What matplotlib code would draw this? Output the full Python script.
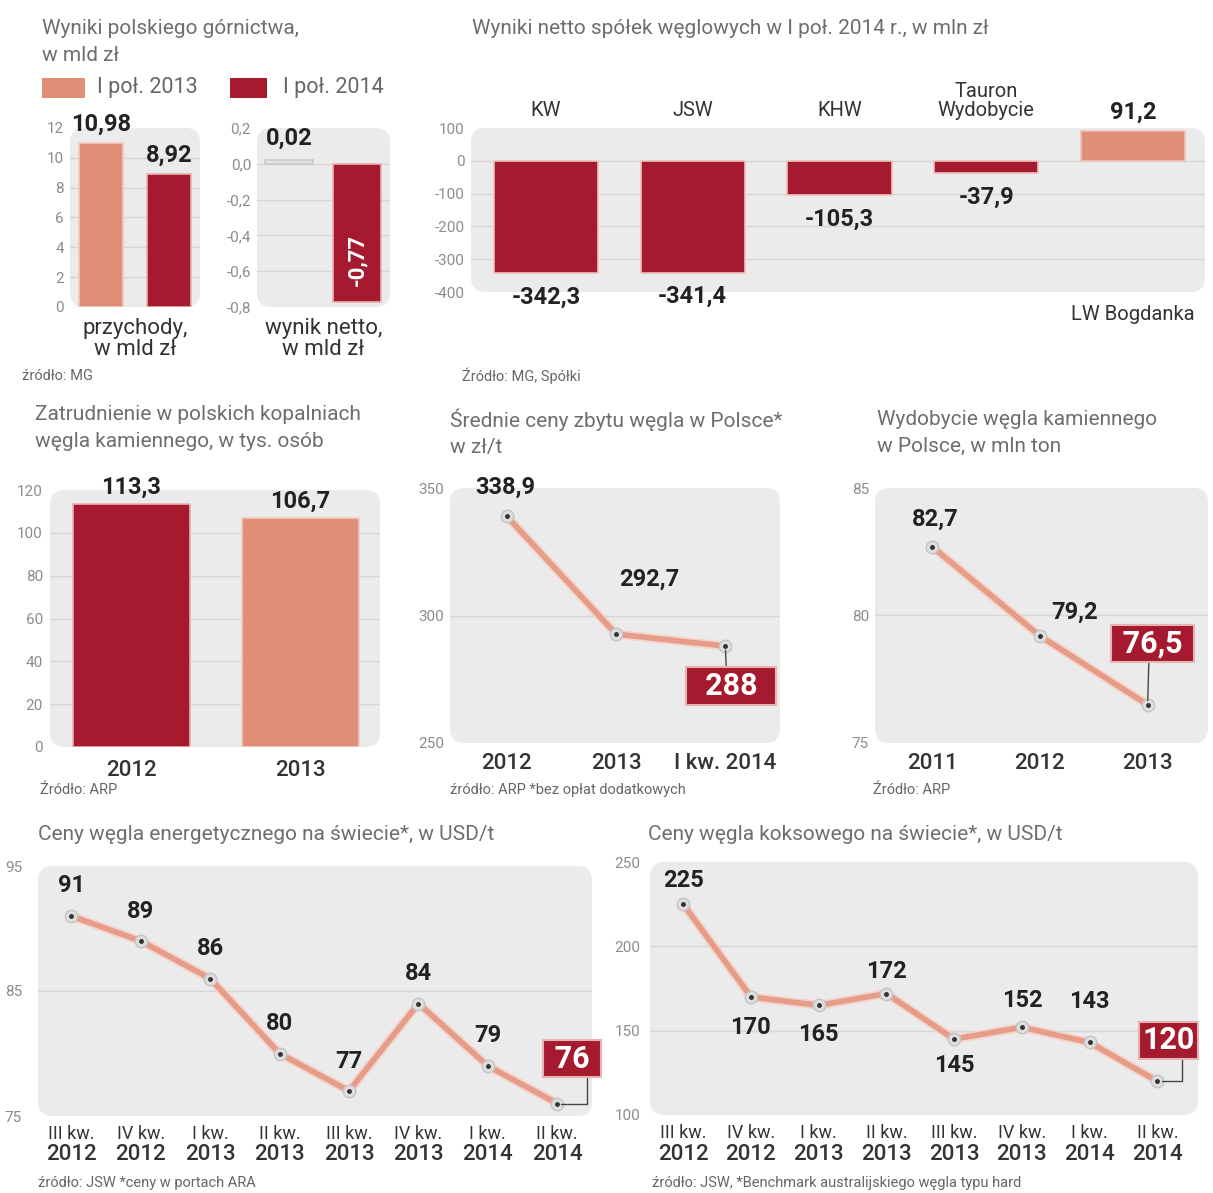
import matplotlib
matplotlib.use("Agg")
import matplotlib.pyplot as plt
import matplotlib.patheffects as pe
from matplotlib.patches import FancyBboxPatch, Rectangle

plt.rcParams['font.family'] = ['Roboto', 'DejaVu Sans']

# --- dane ---
# Wyniki polskiego gornictwa
legend_labels = ['I poł. 2013', 'I poł. 2014']
revenue = [10.98, 8.92]
revenue_labels = ['10,98', '8,92']
net_result = [0.02, -0.77]
net_labels = ['0,02', '-0,77']
rev_ticks = [0, 2, 4, 6, 8, 10, 12]
net_ticks = [0.2, 0.0, -0.2, -0.4, -0.6, -0.8]
net_tick_labels = ['0,2', '0,0', '-0,2', '-0,4', '-0,6', '-0,8']

# Wyniki netto spolek
companies = ['KW', 'JSW', 'KHW', 'Tauron\nWydobycie', 'LW Bogdanka']
company_net = [-342.3, -341.4, -105.3, -37.9, 91.2]
company_labels = ['-342,3', '-341,4', '-105,3', '-37,9', '91,2']
company_ticks = [100, 0, -100, -200, -300, -400]

# Zatrudnienie
emp_years = ['2012', '2013']
employment = [113.3, 106.7]
employment_labels = ['113,3', '106,7']
emp_ticks = [0, 20, 40, 60, 80, 100, 120]

# Srednie ceny zbytu
price_periods = ['2012', '2013', 'I kw. 2014']
price_pl = [338.9, 292.7, 288]
price_pl_labels = ['338,9', '292,7', '288']
price_ticks = [250, 300, 350]

# Wydobycie
output_years = ['2011', '2012', '2013']
output_mt = [82.7, 79.2, 76.5]
output_labels = ['82,7', '79,2', '76,5']
output_ticks = [75, 80, 85]

# Ceny na swiecie
quarters = ['III kw.', 'IV kw.', 'I kw.', 'II kw.', 'III kw.', 'IV kw.', 'I kw.', 'II kw.']
quarter_years = ['2012', '2012', '2013', '2013', '2013', '2013', '2014', '2014']
steam_coal = [91, 89, 86, 80, 77, 84, 79, 76]
steam_ticks = [75, 85, 95]
coking_coal = [225, 170, 165, 172, 145, 152, 143, 120]
coking_ticks = [100, 150, 200, 250]

RED = '#a51a2e'
ORANGE = '#df8f78'
BOXBG = '#ebebeb'
GRID = '#d6d6d6'
TITLE = '#6e6e6e'
TICK = '#8c8c8c'
DARK = '#222222'
TITLE_SIZE = 15
SRC_SIZE = 10.5
TITLE_LS = 1.5

W, H = 1213, 1193
fig = plt.figure(figsize=(W / 100, H / 100), dpi=100)
fig.patch.set_facecolor('white')


def add_ax(x0, y0, x1, y1, box=True, pad=6):
    ax = fig.add_axes([x0 / W, 1 - y1 / H, (x1 - x0) / W, (y1 - y0) / H])
    ax.set_facecolor('none')
    for s in ax.spines.values():
        s.set_visible(False)
    ax.tick_params(length=0, labelsize=11, labelcolor=TICK, pad=pad * 0.72)
    if box:
        fig.add_artist(FancyBboxPatch((x0 / W, 1 - y1 / H), (x1 - x0) / W, (y1 - y0) / H,
                                      boxstyle='round,pad=0,rounding_size=0.012',
                                      transform=fig.transFigure, fc=BOXBG, ec='none', zorder=-5))
    return ax


def ftext(x, y, s, **kw):
    fig.text(x / W, 1 - y / H, s, **kw)


def hgrid(ax, ticks):
    # linie tylko wewnatrz szarego pola
    for t in ticks[1:-1]:
        ax.axhline(t, color=GRID, lw=1, zorder=1)


def value_label(ax, x, y, text, dx, dy, size=17, color=DARK, **kw):
    ax.annotate(text, (x, y), xytext=(dx, dy), textcoords='offset pixels',
                ha='center', va='center', fontsize=size, fontweight='bold', color=color, zorder=6, **kw)


def boxed_label(ax, x, y, text, dx, dy, rel, conn='arc3', size=22):
    ax.annotate(text, (x, y), xytext=(dx, dy), textcoords='offset pixels',
                ha='center', va='center', fontsize=size, fontweight='bold', color='white',
                bbox=dict(boxstyle='square,pad=0.12', fc=RED, ec='#e6b3b3', lw=1.5),
                arrowprops=dict(arrowstyle='-', color='#444', lw=1, shrinkA=0, shrinkB=3,
                                relpos=rel, connectionstyle=conn), zorder=6)


def draw_line(ax, values):
    x = range(len(values))
    ax.plot(x, values, color='#e59c88', lw=4, solid_joinstyle='round', zorder=3,
            path_effects=[pe.Stroke(linewidth=6.5, foreground='#f5d3c9'), pe.Normal()])
    ax.plot(x, values, ls='none', marker='o', ms=9, mfc='#dedede', mec='#c4c4c4', mew=1, zorder=4)
    ax.plot(x, values, ls='none', marker='o', ms=2.5, color='#333333', zorder=5)


def quarter_labels(ax):
    for i, (q, yr) in enumerate(zip(quarters, quarter_years)):
        ax.annotate(q, (i, 0), xycoords=('data', 'axes fraction'), xytext=(0, -18),
                    textcoords='offset pixels', ha='center', va='center', fontsize=13, color='#333333')
        ax.annotate(yr, (i, 0), xycoords=('data', 'axes fraction'), xytext=(0, -39),
                    textcoords='offset pixels', ha='center', va='center', fontsize=16,
                    fontweight='medium', color='#333333')


# ---------- 1. Wyniki polskiego gornictwa ----------
ftext(42, 42, 'Wyniki polskiego górnictwa,\nw mld zł', fontsize=TITLE_SIZE, color=TITLE, va='center',
      linespacing=TITLE_LS)
fig.add_artist(Rectangle((42 / W, 1 - 98 / H), 43 / W, 20 / H, transform=fig.transFigure, fc=ORANGE, ec='none'))
ftext(97, 88, legend_labels[0], fontsize=15.5, color='#666666', va='center')
fig.add_artist(Rectangle((230 / W, 1 - 98 / H), 37 / W, 20 / H, transform=fig.transFigure, fc=RED, ec='none'))
ftext(283, 88, legend_labels[1], fontsize=15.5, color='#666666', va='center')

ax = add_ax(70, 128, 200, 307)
ax.set_ylim(0, 12)
ax.set_xlim(-0.46, 1.46)
ax.set_yticks(rev_ticks, [str(t) for t in rev_ticks])
ax.set_xticks([])
hgrid(ax, rev_ticks)
ax.bar(range(2), revenue, width=0.66, color=[ORANGE, RED], edgecolor=['#f3cbbd', '#eab0b0'], lw=1.2, zorder=2)
for i, (v, t) in enumerate(zip(revenue, revenue_labels)):
    value_label(ax, i, v, t, 0, 19)
ax.text(0.5, -0.18, 'przychody,\nw mld zł', transform=ax.transAxes, ha='center', va='center',
        fontsize=16, color='#333333', linespacing=1.0)

ax = add_ax(257, 128, 390, 307)
ax.set_ylim(-0.8, 0.2)
ax.set_xlim(-0.47, 1.49)
ax.set_yticks(net_ticks, net_tick_labels)
ax.set_xticks([])
hgrid(ax, net_ticks)
ax.bar(range(2), net_result, width=0.7, color=['#e4e4e4', RED], edgecolor=['#c9c9c9', '#eab0b0'], lw=1.2, zorder=2)
value_label(ax, 0, net_result[0], net_labels[0], 0, 22)
value_label(ax, 1, net_result[1], net_labels[1], 0, 42, color='white', rotation=90, size=16)
ax.text(0.5, -0.18, 'wynik netto,\nw mld zł', transform=ax.transAxes, ha='center', va='center',
        fontsize=16, color='#333333', linespacing=1.0)
ftext(22, 376, 'źródło: MG', fontsize=SRC_SIZE, color='#666666', va='center')

# ---------- 2. Wyniki netto spolek ----------
ftext(472, 28, 'Wyniki netto spółek węglowych w I poł. 2014 r., w mln zł', fontsize=TITLE_SIZE,
      color=TITLE, va='center')
ax = add_ax(471, 128, 1205, 292)
ax.set_ylim(-400, 100)
ax.set_xlim(-0.51, 4.49)
ax.set_yticks(company_ticks, [str(t) for t in company_ticks])
ax.set_xticks([])
hgrid(ax, company_ticks)
colors = [RED if v < 0 else ORANGE for v in company_net]
ax.bar(range(len(company_net)), company_net, width=0.71, color=colors, edgecolor='#f0c2bb', lw=1.2, zorder=2)
for i, (name, v, t) in enumerate(zip(companies, company_net, company_labels)):
    if v < 0:
        value_label(ax, i, v, t, 0, -24, size=17)
        ax.text(i, 1.05, name, transform=ax.get_xaxis_transform(), ha='center', va='bottom',
                fontsize=14.5, color='#333333', linespacing=1.0)
    else:
        value_label(ax, i, v, t, 0, 19, size=17)
        ax.text(i, -0.08, name, transform=ax.get_xaxis_transform(), ha='center', va='top',
                fontsize=14.5, color='#333333')
ftext(462, 376, 'Źródło: MG, Spółki', fontsize=SRC_SIZE, color='#666666', va='center')

# ---------- 3. Zatrudnienie ----------
ftext(35, 428, 'Zatrudnienie w polskich kopalniach\nwęgla kamiennego, w tys. osób', fontsize=TITLE_SIZE,
      color=TITLE, va='center', linespacing=TITLE_LS)
ax = add_ax(50, 490, 380, 747, pad=7)
ax.set_ylim(0, 120)
ax.set_xlim(-0.48, 1.47)
ax.set_yticks(emp_ticks, [str(t) for t in emp_ticks])
hgrid(ax, emp_ticks)
ax.bar(range(2), employment, width=0.69, color=[RED, ORANGE], edgecolor=['#eab0b0', '#f3cbbd'], lw=1.2, zorder=2)
for i, (v, t) in enumerate(zip(employment, employment_labels)):
    value_label(ax, i, v, t, 0, 17)
ax.set_xticks(range(2), emp_years)
ax.tick_params(axis='x', labelsize=16, labelcolor='#333333', pad=9)
for lb in ax.get_xticklabels():
    lb.set_fontweight('medium')
ftext(40, 790, 'Źródło: ARP', fontsize=SRC_SIZE, color='#666666', va='center')

# ---------- 4. Srednie ceny zbytu ----------
ftext(450, 433, 'Średnie ceny zbytu węgla w Polsce*\nw zł/t', fontsize=TITLE_SIZE, color=TITLE, va='center',
      linespacing=TITLE_LS)
ax = add_ax(450, 488, 780, 743, pad=6)
ax.set_ylim(250, 350)
ax.set_xlim(-0.52, 2.5)
ax.set_yticks(price_ticks, [str(t) for t in price_ticks])
hgrid(ax, price_ticks)
draw_line(ax, price_pl)
value_label(ax, 0, price_pl[0], price_pl_labels[0], -2, 29)
value_label(ax, 1, price_pl[1], price_pl_labels[1], 33, 55)
boxed_label(ax, 2, price_pl[2], '  ' + price_pl_labels[2] + '  ', 6, -40, rel=(0.44, 1))
ax.set_xticks(range(3), price_periods)
ax.tick_params(axis='x', labelsize=16, labelcolor='#333333', pad=7)
for lb in ax.get_xticklabels():
    lb.set_fontweight('medium')
ftext(450, 790, 'źródło: ARP *bez opłat dodatkowych', fontsize=SRC_SIZE, color='#666666', va='center')

# ---------- 5. Wydobycie ----------
ftext(877, 433, 'Wydobycie węgla kamiennego\nw Polsce, w mln ton', fontsize=TITLE_SIZE, color=TITLE,
      va='center', linespacing=TITLE_LS)
ax = add_ax(875, 488, 1208, 743, pad=6)
ax.set_ylim(75, 85)
ax.set_xlim(-0.53, 2.56)
ax.set_yticks(output_ticks, [str(t) for t in output_ticks])
hgrid(ax, output_ticks)
draw_line(ax, output_mt)
value_label(ax, 0, output_mt[0], output_labels[0], 3, 27)
value_label(ax, 1, output_mt[1], output_labels[1], 35, 24)
boxed_label(ax, 2, output_mt[2], ' ' + output_labels[2] + ' ', 5, 61, rel=(0.45, 0))
ax.set_xticks(range(3), output_years)
ax.tick_params(axis='x', labelsize=16, labelcolor='#333333', pad=7)
for lb in ax.get_xticklabels():
    lb.set_fontweight('medium')
ftext(873, 790, 'Źródło: ARP', fontsize=SRC_SIZE, color='#666666', va='center')

# ---------- 6. Ceny wegla energetycznego ----------
ftext(38, 835, 'Ceny węgla energetycznego na świecie*, w USD/t', fontsize=TITLE_SIZE, color=TITLE, va='center')
ax = add_ax(38, 866, 592, 1116, pad=16)
ax.set_ylim(75, 95)
ax.set_xlim(-0.48, 7.5)
ax.set_yticks(steam_ticks, [str(t) for t in steam_ticks])
ax.set_xticks([])
hgrid(ax, steam_ticks)
draw_line(ax, steam_coal)
for i, v in enumerate(steam_coal[:-1]):
    value_label(ax, i, v, str(v), 0, 30)
boxed_label(ax, 7, steam_coal[-1], ' ' + str(steam_coal[-1]) + ' ', 15, 45, rel=(0.79, 0),
            conn='angle,angleA=90,angleB=0,rad=0')
quarter_labels(ax)
ftext(38, 1183, 'źródło: JSW *ceny w portach ARA', fontsize=SRC_SIZE, color='#666666', va='center')

# ---------- 7. Ceny wegla koksowego ----------
ftext(648, 835, 'Ceny węgla koksowego na świecie*, w USD/t', fontsize=TITLE_SIZE, color=TITLE, va='center')
ax = add_ax(650, 862, 1198, 1115, pad=10)
ax.set_ylim(100, 250)
ax.set_xlim(-0.49, 7.6)
ax.set_yticks(coking_ticks, [str(t) for t in coking_ticks])
ax.set_xticks([])
hgrid(ax, coking_ticks)
draw_line(ax, coking_coal)
coking_offsets = [24, -31, -29, 22, -26, 27, 41]
for i, (v, dy) in enumerate(zip(coking_coal[:-1], coking_offsets)):
    value_label(ax, i, v, str(v), 0, dy)
boxed_label(ax, 7, coking_coal[-1], str(coking_coal[-1]), 11, 41, rel=(0.76, 0),
            conn='angle,angleA=90,angleB=0,rad=0')
quarter_labels(ax)
ftext(652, 1183, 'źródło: JSW, *Benchmark australijskiego węgla typu hard', fontsize=SRC_SIZE,
      color='#666666', va='center')

fig.savefig('out.png', dpi=100)
